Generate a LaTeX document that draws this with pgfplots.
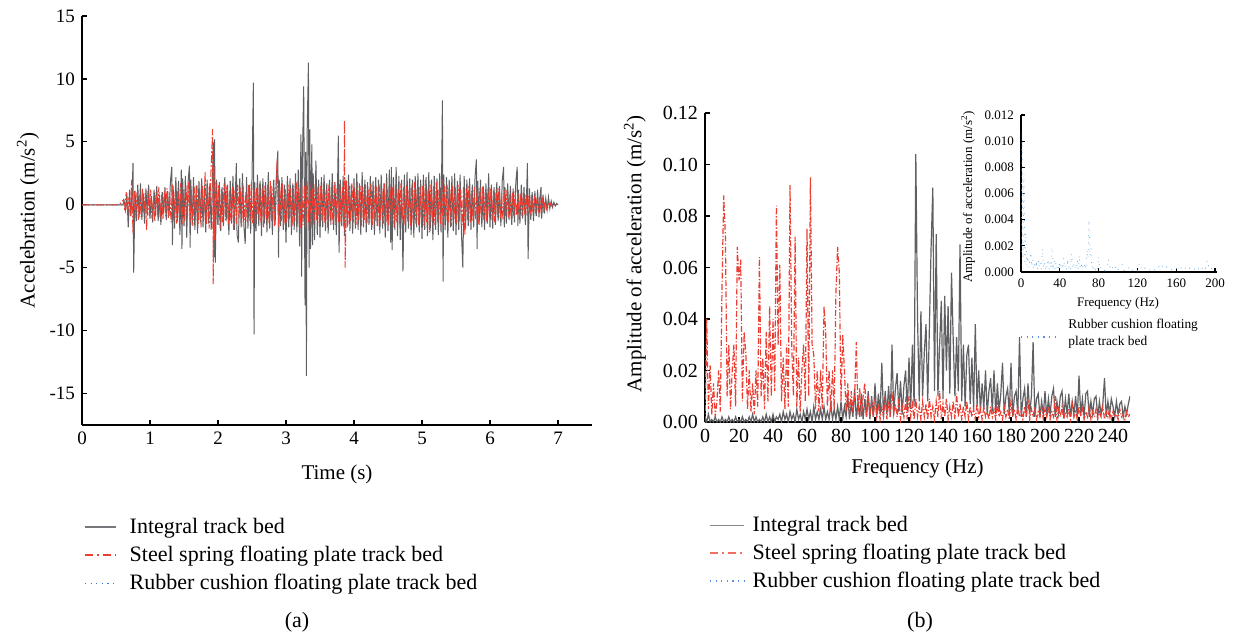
\documentclass[border=0pt]{standalone}
\usepackage{fontspec}
\setmainfont{Liberation Serif}
\usepackage{pgfplots}
\pgfplotsset{compat=1.18}
\definecolor{grayline}{RGB}{95,96,100}
\definecolor{redline}{RGB}{236,62,50}
\definecolor{blueline}{RGB}{60,120,200}
\definecolor{lightblue}{RGB}{110,175,225}
\pgfplotsset{
 base/.style={scale only axis, axis lines*=left,
   axis line style={line width=0.6pt},
   every tick/.style={black, line width=0.6pt},
   major tick length=2.5pt,
   /pgf/number format/assume math mode=true,
   scaled y ticks=false, scaled x ticks=false},
}
\begin{document}
\begin{tikzpicture}
\path[use as bounding box] (0,0) rectangle (617pt,318.5pt);
% ---------------- (a) ----------------
\begin{axis}[base, at={(41pt,106pt)}, anchor=south west,
  width=255pt, height=204.5pt,
  xmin=0, xmax=7.5, ymin=-17.5, ymax=15,
  xtick={0,1,2,3,4,5,6,7}, ytick={-15,-10,-5,0,5,10,15},
  ticklabel style={font=\fontsize{9.5}{11}\selectfont},
  xlabel={Time (s)}, ylabel={Accelebration (m/s\textsuperscript{2})},
  label style={font=\fontsize{10.5}{12}\selectfont},
  xlabel style={at={(axis description cs:0.5,-0.122)}, anchor=center},
  ylabel style={at={(axis description cs:-0.106,0.5)}, anchor=center},
  legend image code/.code={\draw[#1] (0pt,0pt) -- (15.5pt,0pt);},
  legend style={at={(axis description cs:-0.008,-0.318)}, anchor=west, draw=none, fill=none,
    font=\fontsize{11}{13}\selectfont, row sep=0.6pt,
    cells={anchor=west, inner sep=0pt, text height=8pt, text depth=2.5pt},
    /tikz/every odd column/.append style={column sep=4.5pt}},
]
\addplot[blueline, line width=0.5pt, densely dotted, forget plot] coordinates {
(0,0) (0.6,0) (0.7,0.2) (0.8,-0.3) (0.9,0.25) (1.0,-0.2) (1.1,0.3) (1.2,-0.25) (1.3,0.2) (1.4,-0.35)
(1.5,0.3) (1.6,-0.2) (1.7,0.25) (1.8,-0.3) (1.9,0.4) (2.0,-0.3) (2.1,0.2) (2.2,-0.25) (2.3,0.3) (2.4,-0.2)
(2.5,0.35) (2.6,-0.3) (2.7,0.2) (2.8,-0.25) (2.9,0.3) (3.0,-0.2) (3.1,0.25) (3.2,-0.35) (3.3,0.4) (3.4,-0.3)
(3.5,0.2) (3.6,-0.25) (3.7,0.3) (3.8,-0.2) (3.9,0.35) (4.0,-0.3) (4.1,0.2) (4.2,-0.25) (4.3,0.3) (4.4,-0.2)
(4.5,0.25) (4.6,-0.3) (4.7,0.2) (4.8,-0.25) (4.9,0.3) (5.0,-0.2) (5.1,0.25) (5.2,-0.3) (5.3,0.35) (5.4,-0.25)
(5.5,0.2) (5.6,-0.3) (5.7,0.25) (5.8,-0.2) (5.9,0.2) (6.0,-0.25) (6.1,0.2) (6.2,-0.15) (6.3,0.2) (6.4,-0.15)
(6.5,0.15) (6.6,-0.1) (6.7,0.1) (6.8,-0.05) (6.9,0.05) (7.0,0)};
\addplot[grayline, line width=0.5pt, forget plot] coordinates {
(0,0) (0.60,0) (0.62,0.3) (0.64,-0.4) (0.66,0.9) (0.68,-1.8) (0.70,1.2) (0.72,-0.9) (0.74,1.5) (0.75,3.3)
(0.76,-5.4) (0.78,1.1) (0.80,-1.3) (0.82,1.6) (0.84,-1.0) (0.86,1.7) (0.88,-1.2) (0.90,0.9) (0.92,-1.5) (0.94,1.3)
(0.96,-0.8) (0.98,1.6) (1.00,-1.1) (1.02,0.7) (1.04,-1.4) (1.06,1.2) (1.08,-0.9) (1.10,1.5) (1.12,-1.3) (1.14,0.8)
(1.16,-1.6) (1.18,1.0) (1.20,-0.7) (1.22,1.4) (1.24,-1.2) (1.26,1.1) (1.28,-0.9) (1.30,1.8) (1.32,3.0) (1.33,-3.2)
(1.34,1.5) (1.36,-1.9) (1.38,2.2) (1.40,-1.4) (1.42,1.9) (1.44,-2.4) (1.46,2.8) (1.47,-3.5) (1.48,2.1) (1.50,-1.7)
(1.52,2.3) (1.54,-2.6) (1.56,1.8) (1.58,3.1) (1.59,-3.4) (1.60,2.0) (1.62,-1.6) (1.64,2.2) (1.66,-2.0) (1.68,1.5)
(1.70,-2.3) (1.72,1.9) (1.74,-1.4) (1.76,2.1) (1.78,-1.8) (1.80,1.6) (1.82,-2.2) (1.84,2.0) (1.86,-1.5) (1.88,1.7)
(1.90,-2.0) (1.92,2.4) (1.93,5.0) (1.94,-4.2) (1.95,5.2) (1.96,-4.6) (1.98,2.0) (2.00,-1.6) (2.02,1.8) (2.04,-2.1)
(2.06,1.4) (2.08,-1.7) (2.10,2.2) (2.12,-1.3) (2.14,1.6) (2.16,-2.4) (2.18,1.9) (2.20,-1.5) (2.22,2.3) (2.24,-2.0)
(2.26,1.7) (2.27,3.3) (2.28,-2.4) (2.30,-3.0) (2.32,2.1) (2.34,-1.8) (2.36,2.5) (2.38,-1.6) (2.40,-3.1) (2.42,2.2)
(2.44,-1.9) (2.46,1.6) (2.48,-2.3) (2.50,2.0) (2.52,9.7) (2.53,-10.3) (2.54,1.8) (2.56,-2.1) (2.58,2.4) (2.60,-1.7)
(2.62,1.9) (2.64,-2.5) (2.66,2.1) (2.68,-1.5) (2.70,1.8) (2.72,-2.2) (2.74,2.6) (2.76,-1.9) (2.78,1.5) (2.80,-2.4)
(2.82,2.0) (2.84,-1.6) (2.86,2.3) (2.88,4.3) (2.89,-4.2) (2.90,2.0) (2.92,-1.7) (2.94,2.2) (2.96,-2.0) (2.98,1.6)
(3.00,-3.0) (3.02,2.3) (3.04,-1.8) (3.06,2.1) (3.08,-2.4) (3.10,1.7) (3.12,-2.0) (3.14,2.5) (3.16,-2.2) (3.18,2.8)
(3.20,-3.3) (3.22,5.6) (3.23,-5.7) (3.24,3.0) (3.26,9.4) (3.28,-8.0) (3.29,4.2) (3.30,-13.6) (3.31,5.4) (3.33,11.3)
(3.34,-5.0) (3.35,6.0) (3.36,-3.5) (3.38,4.8) (3.39,-3.2) (3.40,2.5) (3.42,-2.8) (3.44,3.5) (3.46,-2.4) (3.48,2.0)
(3.50,-2.6) (3.52,2.2) (3.54,-1.8) (3.56,2.4) (3.58,-2.1) (3.60,1.7) (3.62,-2.3) (3.64,2.0) (3.66,-1.6) (3.68,2.5)
(3.70,-2.0) (3.72,1.8) (3.74,-2.4) (3.76,2.2) (3.77,5.5) (3.78,-3.8) (3.80,2.0) (3.82,-1.7) (3.84,2.3) (3.86,-2.5)
(3.88,2.0) (3.90,-1.8) (3.92,2.4) (3.94,-2.1) (3.96,1.6) (3.98,-2.3) (4.00,2.1) (4.02,-1.9) (4.04,2.5) (4.06,-2.0)
(4.08,1.7) (4.10,-2.4) (4.12,2.6) (4.14,-1.8) (4.16,2.0) (4.18,-2.2) (4.20,1.8) (4.22,-1.6) (4.24,2.3) (4.26,-2.0)
(4.28,1.9) (4.30,-2.4) (4.32,2.2) (4.34,-1.7) (4.36,2.0) (4.38,-2.3) (4.40,2.4) (4.42,-1.9) (4.44,1.7) (4.46,-2.6)
(4.48,2.5) (4.50,-2.1) (4.52,2.8) (4.54,-3.0) (4.55,3.0) (4.56,-3.6) (4.58,2.2) (4.60,-2.0) (4.62,3.0) (4.64,-2.5)
(4.66,2.3) (4.68,-2.8) (4.70,2.0) (4.72,-5.3) (4.74,2.4) (4.76,-2.2) (4.78,2.6) (4.80,-1.9) (4.82,2.1) (4.84,-2.4)
(4.86,2.0) (4.88,-2.6) (4.90,2.3) (4.92,-1.8) (4.94,2.5) (4.96,-2.2) (4.98,2.0) (5.00,-2.7) (5.02,2.4) (5.04,-2.0)
(5.06,2.2) (5.08,-2.5) (5.10,2.6) (5.12,-2.1) (5.14,2.0) (5.16,-2.8) (5.18,2.3) (5.20,-2.0) (5.22,2.1) (5.24,-2.4)
(5.26,2.5) (5.28,-2.2) (5.30,8.3) (5.31,-6.1) (5.32,2.4) (5.34,-2.0) (5.36,2.2) (5.38,-2.6) (5.40,2.0) (5.42,-1.8)
(5.44,2.3) (5.46,-2.1) (5.48,2.5) (5.50,-2.4) (5.52,1.9) (5.54,-2.0) (5.56,2.4) (5.58,-2.2) (5.60,-5.0) (5.62,2.3)
(5.64,-1.9) (5.66,2.0) (5.68,-1.7) (5.70,2.1) (5.72,-2.0) (5.74,1.6) (5.76,-1.8) (5.78,2.2) (5.80,3.6) (5.81,-3.5)
(5.82,1.9) (5.84,-1.6) (5.86,2.0) (5.88,-1.8) (5.90,1.5) (5.92,-2.0) (5.94,1.7) (5.96,-1.5) (5.98,2.5) (6.00,-1.8)
(6.02,1.6) (6.04,-1.9) (6.06,1.4) (6.08,-1.6) (6.10,1.8) (6.12,-1.3) (6.14,1.5) (6.16,-1.7) (6.18,1.9) (6.20,3.0)
(6.21,-1.8) (6.22,1.4) (6.24,-1.5) (6.26,1.7) (6.28,-1.2) (6.30,1.5) (6.32,-1.6) (6.34,1.3) (6.36,-1.4) (6.38,1.8)
(6.40,3.0) (6.41,-1.7) (6.42,1.2) (6.44,-1.5) (6.46,1.6) (6.48,-1.1) (6.50,1.4) (6.52,-1.6) (6.54,1.2) (6.55,3.3)
(6.56,-4.3) (6.58,1.3) (6.60,-1.2) (6.62,1.0) (6.64,-1.3) (6.66,1.1) (6.68,-0.9) (6.70,1.2) (6.72,-1.0) (6.74,0.9)
(6.75,1.4) (6.76,-1.1) (6.78,0.8) (6.80,-0.7) (6.82,0.5) (6.84,-0.4) (6.86,0.6) (6.88,-0.3) (6.90,0.3) (6.92,-0.2)
(6.94,0.2) (6.96,-0.1) (6.98,0.1) (7.00,0)};
\addplot[redline, line width=0.5pt, dash pattern=on 4pt off 1pt on 1pt off 1pt, forget plot] coordinates {
(0,0) (0.55,0) (0.61,0.4) (0.63,-0.5) (0.65,1.0) (0.67,-0.8) (0.69,0.6) (0.71,-0.9) (0.73,2.0) (0.75,-2.3)
(0.77,1.1) (0.79,-0.8) (0.81,1.0) (0.83,-1.2) (0.85,0.8) (0.87,-1.0) (0.89,1.3) (0.91,-0.7) (0.93,0.9) (0.95,-2.0)
(0.97,1.1) (0.99,-0.9) (1.01,1.2) (1.03,-1.1) (1.05,0.7) (1.07,-1.3) (1.09,1.0) (1.11,-0.8) (1.13,1.4) (1.15,-1.0)
(1.17,0.8) (1.19,-1.2) (1.21,1.1) (1.23,-0.9) (1.25,1.3) (1.27,-1.1) (1.29,0.9) (1.31,-1.4) (1.33,1.6) (1.35,-1.2)
(1.37,1.0) (1.39,-1.5) (1.41,1.3) (1.43,-1.0) (1.45,1.7) (1.47,-1.6) (1.49,1.2) (1.51,-1.3) (1.53,1.5) (1.55,-1.1)
(1.57,1.8) (1.59,-1.4) (1.61,1.2) (1.63,-1.7) (1.65,1.4) (1.67,-1.2) (1.69,1.6) (1.71,-1.5) (1.73,1.3) (1.75,-1.8)
(1.77,1.5) (1.79,-1.2) (1.81,2.6) (1.83,-1.6) (1.85,1.4) (1.87,-1.9) (1.89,1.7) (1.91,4.5) (1.92,6.0) (1.93,-6.3)
(1.94,3.0) (1.95,-2.8) (1.97,1.8) (1.99,-1.5) (2.01,1.6) (2.03,-1.9) (2.05,1.3) (2.07,-1.4) (2.09,1.7) (2.11,-1.2)
(2.13,1.5) (2.15,-1.6) (2.17,1.1) (2.19,-1.3) (2.21,1.4) (2.23,-2.0) (2.25,1.2) (2.27,-1.5) (2.29,1.6) (2.31,-1.1)
(2.33,1.3) (2.35,-1.7) (2.37,1.5) (2.39,-1.2) (2.41,1.0) (2.43,-1.4) (2.45,1.6) (2.47,-1.3) (2.49,1.8) (2.51,-1.5)
(2.53,1.2) (2.55,-1.6) (2.57,1.4) (2.59,-1.0) (2.61,1.7) (2.63,-1.4) (2.65,1.3) (2.67,-1.8) (2.69,1.5) (2.71,-1.2)
(2.73,1.6) (2.75,-1.5) (2.77,1.9) (2.79,-1.3) (2.81,1.4) (2.83,-1.7) (2.85,1.2) (2.87,3.6) (2.89,-1.8) (2.91,1.5)
(2.93,-1.3) (2.95,1.7) (2.97,-1.6) (2.99,1.2) (3.01,-1.4) (3.03,1.6) (3.05,-1.2) (3.07,1.3) (3.09,-1.7) (3.11,1.5)
(3.13,-1.3) (3.15,1.8) (3.17,-1.5) (3.19,1.4) (3.21,-1.9) (3.23,1.7) (3.25,-1.6) (3.27,1.5) (3.29,-1.8) (3.31,1.9)
(3.33,-1.4) (3.35,1.6) (3.37,-1.7) (3.39,1.3) (3.41,-1.5) (3.43,1.7) (3.45,-1.2) (3.47,1.4) (3.49,-1.6) (3.51,1.5)
(3.53,-1.3) (3.55,1.7) (3.57,-1.4) (3.59,1.2) (3.61,-1.8) (3.63,1.6) (3.65,-1.3) (3.67,1.4) (3.69,-1.5) (3.71,1.8)
(3.73,-1.6) (3.75,1.3) (3.77,-1.4) (3.79,1.7) (3.81,-1.5) (3.83,1.4) (3.85,-1.8) (3.86,6.7) (3.87,-5.0) (3.89,1.9)
(3.91,-1.6) (3.93,1.5) (3.95,-1.3) (3.97,1.7) (3.99,-1.4) (4.01,1.3) (4.03,-1.6) (4.05,1.8) (4.07,-1.2) (4.09,1.5)
(4.11,-1.7) (4.13,1.4) (4.15,-1.3) (4.17,1.6) (4.19,-1.5) (4.21,1.2) (4.23,-1.4) (4.25,1.7) (4.27,-1.6) (4.29,1.5)
(4.31,-1.3) (4.33,1.4) (4.35,-1.7) (4.37,1.6) (4.39,-1.2) (4.41,1.3) (4.43,-1.5) (4.45,1.7) (4.47,-1.4) (4.49,1.2)
(4.51,-1.6) (4.53,1.5) (4.55,-1.3) (4.57,1.4) (4.59,-1.8) (4.61,1.6) (4.63,-1.4) (4.65,1.3) (4.67,-1.5) (4.69,1.7)
(4.71,-1.2) (4.73,1.4) (4.75,-1.6) (4.77,1.5) (4.79,-1.3) (4.81,1.2) (4.83,-1.7) (4.85,1.6) (4.87,-1.4) (4.89,1.8)
(4.91,-1.5) (4.93,1.3) (4.95,-1.6) (4.97,1.4) (4.99,-1.2) (5.01,1.5) (5.03,-1.7) (5.05,2.0) (5.07,-1.4) (5.09,1.3)
(5.11,-2.2) (5.13,1.6) (5.15,-1.3) (5.17,1.5) (5.19,-1.6) (5.21,1.8) (5.23,-1.4) (5.25,1.2) (5.27,-1.5) (5.29,2.0)
(5.31,-1.8) (5.33,1.5) (5.35,-1.3) (5.37,1.6) (5.39,-1.4) (5.41,1.3) (5.43,-1.7) (5.45,1.5) (5.47,-1.2) (5.49,1.4)
(5.51,-1.5) (5.53,1.6) (5.55,-1.3) (5.57,1.2) (5.59,-1.6) (5.61,1.4) (5.63,-2.4) (5.65,1.3) (5.67,-1.2) (5.69,1.5)
(5.71,-1.4) (5.73,1.1) (5.75,-1.3) (5.77,1.4) (5.79,-1.2) (5.81,1.2) (5.83,-1.5) (5.85,1.3) (5.87,-1.1) (5.89,1.4)
(5.91,-1.2) (5.93,1.0) (5.95,-1.3) (5.97,1.2) (5.99,-1.0) (6.01,1.3) (6.03,-1.2) (6.05,1.1) (6.07,-1.4) (6.09,1.2)
(6.11,-1.0) (6.13,1.3) (6.15,-1.1) (6.17,0.9) (6.19,-1.2) (6.21,1.1) (6.23,-0.9) (6.25,1.2) (6.27,-1.0) (6.29,0.8)
(6.31,-1.1) (6.33,1.0) (6.35,-0.9) (6.37,1.1) (6.39,-0.8) (6.41,0.9) (6.43,-1.0) (6.45,0.8) (6.47,-0.9) (6.49,1.0)
(6.51,-0.7) (6.53,0.8) (6.55,-0.9) (6.57,0.7) (6.59,-0.8) (6.61,0.8) (6.63,-0.6) (6.65,0.7) (6.67,-0.7) (6.69,0.5)
(6.71,-0.6) (6.73,0.6) (6.75,-0.5) (6.77,0.4) (6.79,-0.4) (6.81,0.3) (6.83,-0.3) (6.85,0.2) (6.87,-0.2) (6.89,0.1)
(6.91,-0.1) (6.93,0) (7.00,0)};
\addlegendimage{grayline!85, line width=0.7pt}
\addlegendentry{Integral track bed}
\addlegendimage{redline, line width=0.7pt, dash pattern=on 4pt off 2pt on 1pt off 2pt}
\addlegendentry{Steel spring floating plate track bed}
\addlegendimage{blueline, line width=0.7pt, dash pattern=on 0.6pt off 2.2pt}
\addlegendentry{Rubber cushion floating plate track bed}
\end{axis}
% ---------------- (b) main ----------------
\begin{axis}[base, at={(352.5pt,107.5pt)}, anchor=south west,
  width=212.5pt, height=154.5pt,
  xmin=0, xmax=250, ymin=0, ymax=0.12,
  xtick={0,20,40,60,80,100,120,140,160,180,200,220,240},
  ytick={0,0.02,0.04,0.06,0.08,0.1,0.12},
  yticklabel style={/pgf/number format/.cd, fixed, fixed zerofill, precision=2},
  ticklabel style={font=\fontsize{10}{12}\selectfont},
  xlabel={Frequency (Hz)}, ylabel={Amplitude of acceleration (m/s\textsuperscript{2})},
  label style={font=\fontsize{10.5}{12}\selectfont},
  xlabel style={at={(axis description cs:0.5,-0.149)}, anchor=center},
  ylabel style={at={(axis description cs:-0.165,0.544)}, anchor=center},
  legend image code/.code={\draw[#1] (0pt,0pt) -- (17pt,0pt);},
  legend style={at={(axis description cs:-0.005,-0.424)}, anchor=west, draw=none, fill=none,
    font=\fontsize{11}{13}\selectfont, row sep=0.4pt,
    cells={anchor=west, inner sep=0pt, text height=8pt, text depth=2.5pt},
    /tikz/every odd column/.append style={column sep=2pt}},
]
\addplot[grayline, line width=0.6pt, forget plot] coordinates {
(0,0.002) (1,0.000) (2,0.003) (3,0.000) (4,0.001) (5,0.000) (6,0.002) (7,0.000) (8,0.001) (9,0.000)
(10,0.002) (11,0.000) (12,0.001) (13,0.000) (14,0.002) (15,0.000) (16,0.001) (17,0.000) (18,0.002) (19,0.000)
(20,0.001) (21,0.000) (22,0.002) (23,0.000) (24,0.001) (25,0.000) (26,0.002) (27,0.000) (28,0.003) (29,0.000)
(30,0.002) (31,0.000) (32,0.001) (33,0.000) (34,0.002) (35,0.000) (36,0.003) (37,0.000) (38,0.002) (39,0.000)
(40,0.003) (41,0.000) (42,0.002) (43,0.001) (44,0.003) (45,0.000) (46,0.004) (47,0.001) (48,0.003) (49,0.000)
(50,0.004) (51,0.001) (52,0.003) (53,0.000) (54,0.005) (55,0.001) (56,0.003) (57,0.000) (58,0.004) (59,0.001)
(60,0.005) (61,0.001) (62,0.004) (63,0.000) (64,0.006) (65,0.001) (66,0.004) (67,0.001) (68,0.005) (69,0.001)
(70,0.006) (71,0.001) (72,0.004) (73,0.001) (74,0.007) (75,0.001) (76,0.005) (77,0.001) (78,0.006) (79,0.001)
(80,0.008) (81,0.001) (82,0.006) (83,0.002) (84,0.010) (85,0.001) (86,0.007) (87,0.002) (88,0.013) (89,0.001)
(90,0.008) (91,0.002) (92,0.011) (93,0.001) (94,0.009) (95,0.002) (96,0.012) (97,0.001) (98,0.010) (99,0.002)
(100,0.015) (101,0.002) (102,0.011) (103,0.003) (104,0.023) (105,0.002) (106,0.012) (107,0.003) (108,0.014) (109,0.002)
(110,0.030) (111,0.003) (112,0.013) (113,0.019) (114,0.004) (115,0.016) (116,0.003) (117,0.014) (118,0.020) (119,0.004)
(120,0.025) (121,0.005) (122,0.030) (123,0.006) (124,0.104) (125,0.041) (126,0.008) (127,0.043) (128,0.010) (129,0.027)
(130,0.038) (131,0.008) (132,0.037) (133,0.068) (134,0.091) (135,0.012) (136,0.073) (137,0.010) (138,0.030) (139,0.047)
(140,0.009) (141,0.049) (142,0.020) (143,0.045) (144,0.011) (145,0.058) (146,0.032) (147,0.010) (148,0.033) (149,0.012)
(150,0.069) (151,0.008) (152,0.030) (153,0.006) (154,0.026) (155,0.030) (156,0.007) (157,0.025) (158,0.005) (159,0.038)
(160,0.006) (161,0.020) (162,0.004) (163,0.015) (164,0.005) (165,0.020) (166,0.003) (167,0.012) (168,0.017) (169,0.004)
(170,0.020) (171,0.003) (172,0.015) (173,0.004) (174,0.011) (175,0.023) (176,0.003) (177,0.010) (178,0.013) (179,0.003)
(180,0.023) (181,0.002) (182,0.010) (183,0.012) (184,0.003) (185,0.033) (186,0.002) (187,0.009) (188,0.013) (189,0.002)
(190,0.015) (191,0.003) (192,0.010) (193,0.031) (194,0.002) (195,0.009) (196,0.011) (197,0.002) (198,0.008) (199,0.003)
(200,0.012) (201,0.002) (202,0.009) (203,0.003) (204,0.010) (205,0.013) (206,0.002) (207,0.008) (208,0.003) (209,0.010)
(210,0.012) (211,0.002) (212,0.009) (213,0.003) (214,0.011) (215,0.002) (216,0.008) (217,0.003) (218,0.010) (219,0.002)
(220,0.018) (221,0.003) (222,0.009) (223,0.002) (224,0.011) (225,0.012) (226,0.002) (227,0.008) (228,0.003) (229,0.009)
(230,0.010) (231,0.002) (232,0.008) (233,0.003) (234,0.007) (235,0.017) (236,0.002) (237,0.008) (238,0.003) (239,0.009)
(240,0.006) (241,0.002) (242,0.008) (243,0.003) (244,0.007) (245,0.008) (246,0.002) (247,0.006) (248,0.003) (249,0.007)
(250,0.010)};
\addplot[redline, line width=0.6pt, dash pattern=on 3pt off 1pt on 0.6pt off 1pt, forget plot] coordinates {
(0,0.000) (1,0.040) (2,0.005) (3,0.022) (4,0.003) (5,0.015) (6,0.002) (7,0.008) (8,0.020) (9,0.004)
(10,0.052) (11,0.088) (12,0.072) (13,0.010) (14,0.030) (15,0.005) (16,0.020) (17,0.030) (18,0.006) (19,0.068)
(20,0.055) (21,0.063) (22,0.008) (23,0.035) (24,0.027) (25,0.005) (26,0.020) (27,0.004) (28,0.015) (29,0.003)
(30,0.020) (31,0.006) (32,0.064) (33,0.010) (34,0.025) (35,0.005) (36,0.035) (37,0.008) (38,0.045) (39,0.010)
(40,0.040) (41,0.012) (42,0.084) (43,0.030) (44,0.061) (45,0.008) (46,0.025) (47,0.005) (48,0.030) (49,0.006)
(50,0.092) (51,0.030) (52,0.010) (53,0.072) (54,0.006) (55,0.025) (56,0.004) (57,0.020) (58,0.030) (59,0.008)
(60,0.075) (61,0.010) (62,0.095) (63,0.030) (64,0.026) (65,0.005) (66,0.020) (67,0.004) (68,0.020) (69,0.005)
(70,0.045) (71,0.035) (72,0.006) (73,0.020) (74,0.004) (75,0.020) (76,0.005) (77,0.050) (78,0.068) (79,0.058)
(80,0.008) (81,0.034) (82,0.020) (83,0.004) (84,0.015) (85,0.003) (86,0.012) (87,0.004) (88,0.010) (89,0.031)
(90,0.003) (91,0.013) (92,0.002) (93,0.010) (94,0.015) (95,0.002) (96,0.010) (97,0.003) (98,0.008) (99,0.002)
(100,0.009) (101,0.002) (102,0.007) (103,0.001) (104,0.006) (105,0.002) (106,0.010) (107,0.001) (108,0.008) (109,0.002)
(110,0.012) (111,0.003) (112,0.007) (113,0.002) (114,0.009) (115,0.001) (116,0.006) (117,0.002) (118,0.008) (119,0.001)
(120,0.010) (121,0.002) (122,0.007) (123,0.001) (124,0.009) (125,0.002) (126,0.006) (127,0.001) (128,0.008) (129,0.002)
(130,0.007) (131,0.001) (132,0.009) (133,0.002) (134,0.006) (135,0.001) (136,0.008) (137,0.002) (138,0.012) (139,0.001)
(140,0.007) (141,0.002) (142,0.009) (143,0.001) (144,0.006) (145,0.002) (146,0.008) (147,0.001) (148,0.011) (149,0.002)
(150,0.007) (151,0.001) (152,0.006) (153,0.002) (154,0.008) (155,0.001) (156,0.006) (157,0.002) (158,0.005) (159,0.001)
(160,0.007) (161,0.002) (162,0.005) (163,0.001) (164,0.006) (165,0.002) (166,0.004) (167,0.001) (168,0.006) (169,0.002)
(170,0.005) (171,0.001) (172,0.007) (173,0.002) (174,0.004) (175,0.001) (176,0.006) (177,0.002) (178,0.005) (179,0.001)
(180,0.008) (181,0.002) (182,0.005) (183,0.001) (184,0.006) (185,0.002) (186,0.004) (187,0.001) (188,0.006) (189,0.002)
(190,0.009) (191,0.001) (192,0.005) (193,0.002) (194,0.006) (195,0.001) (196,0.004) (197,0.002) (198,0.006) (199,0.001)
(200,0.005) (201,0.002) (202,0.006) (203,0.001) (204,0.004) (205,0.002) (206,0.010) (207,0.001) (208,0.005) (209,0.002)
(210,0.006) (211,0.001) (212,0.004) (213,0.002) (214,0.005) (215,0.001) (216,0.007) (217,0.002) (218,0.004) (219,0.001)
(220,0.006) (221,0.002) (222,0.005) (223,0.001) (224,0.004) (225,0.002) (226,0.006) (227,0.001) (228,0.004) (229,0.002)
(230,0.005) (231,0.001) (232,0.004) (233,0.002) (234,0.006) (235,0.001) (236,0.004) (237,0.002) (238,0.005) (239,0.001)
(240,0.004) (241,0.002) (242,0.003) (243,0.001) (244,0.005) (245,0.002) (246,0.003) (247,0.001) (248,0.004) (249,0.002)
(250,0.003)};
\addlegendimage{grayline!75, line width=0.7pt}
\addlegendentry{Integral track bed}
\addlegendimage{redline!75, line width=0.7pt, dash pattern=on 4pt off 2pt on 1pt off 2pt}
\addlegendentry{Steel spring floating plate track bed}
\addlegendimage{lightblue!80!blue, line width=0.7pt, dash pattern=on 0.6pt off 2.2pt}
\addlegendentry{Rubber cushion floating plate track bed}
\end{axis}
% ---------------- (b) inset ----------------
\begin{axis}[base, at={(510.5pt,182.5pt)}, anchor=south west,
  width=98pt, height=78.5pt,
  xmin=0, xmax=202, ymin=0, ymax=0.012,
  xtick={0,40,80,120,160,200},
  ytick={0,0.002,0.004,0.006,0.008,0.01,0.012},
  yticklabel style={/pgf/number format/.cd, fixed, fixed zerofill, precision=3},
  major tick length=1.8pt,
  ticklabel style={font=\fontsize{6.5}{8}\selectfont},
  xlabel={Frequency (Hz)}, ylabel={Amplitude of acceleration (m/s\textsuperscript{2})},
  label style={font=\fontsize{6.5}{8}\selectfont},
  xlabel style={at={(axis description cs:0.495,-0.197)}, anchor=center},
  ylabel style={at={(axis description cs:-0.27,0.478)}, anchor=center},
]
\addplot[lightblue, line width=0.4pt, dash pattern=on 0.4pt off 3pt] coordinates {
(0,0.0005) (1,0.0108) (2,0.0010) (3,0.0075) (4,0.0008) (5,0.0030) (6,0.0005) (7,0.0012) (8,0.0003) (9,0.0008)
(10,0.0015) (11,0.0004) (12,0.0010) (13,0.0002) (14,0.0008) (15,0.0003) (16,0.0006) (17,0.0002) (18,0.0009) (19,0.0003)
(20,0.0007) (21,0.0002) (22,0.0018) (23,0.0004) (24,0.0008) (25,0.0002) (26,0.0006) (27,0.0003) (28,0.0010) (29,0.0002)
(30,0.0008) (31,0.0003) (32,0.0019) (33,0.0005) (34,0.0009) (35,0.0002) (36,0.0007) (37,0.0003) (38,0.0006) (39,0.0002)
(40,0.0008) (41,0.0003) (42,0.0005) (43,0.0002) (44,0.0011) (45,0.0003) (46,0.0006) (47,0.0002) (48,0.0007) (49,0.0003)
(50,0.0005) (51,0.0002) (52,0.0014) (53,0.0003) (54,0.0006) (55,0.0002) (56,0.0005) (57,0.0003) (58,0.0009) (59,0.0002)
(60,0.0013) (61,0.0003) (62,0.0006) (63,0.0002) (64,0.0005) (65,0.0003) (66,0.0007) (67,0.0002) (68,0.0017) (69,0.0010)
(70,0.0040) (71,0.0012) (72,0.0018) (73,0.0003) (74,0.0006) (75,0.0002) (76,0.0004) (77,0.0002) (78,0.0003) (79,0.0001)
(80,0.0012) (81,0.0002) (82,0.0003) (84,0.0004) (86,0.0001) (88,0.0003) (90,0.0010) (92,0.0002) (94,0.0004) (96,0.0001)
(98,0.0005) (100,0.0002) (102,0.0004) (104,0.0006) (106,0.0001) (108,0.0003) (110,0.0002) (112,0.0004) (114,0.0001) (116,0.0002)
(118,0.0003) (120,0.0001) (122,0.0007) (124,0.0002) (126,0.0001) (128,0.0003) (130,0.0001) (132,0.0002) (134,0.0001) (136,0.0003)
(138,0.0001) (140,0.0002) (142,0.0004) (144,0.0002) (146,0.0005) (148,0.0003) (150,0.0004) (152,0.0002) (154,0.0003) (156,0.0001)
(158,0.0002) (160,0.0003) (162,0.0001) (164,0.0002) (166,0.0004) (168,0.0005) (170,0.0002) (172,0.0001) (174,0.0003) (176,0.0002)
(178,0.0001) (180,0.0004) (182,0.0002) (184,0.0003) (186,0.0001) (188,0.0005) (190,0.0003) (192,0.0009) (194,0.0002) (196,0.0003)
(198,0.0001) (200,0.0002)};
\end{axis}
% leftover legend entry in (b)
\draw[lightblue!80!blue, line width=0.6pt, dash pattern=on 0.6pt off 2.2pt] (510.5pt,150pt) -- (527.5pt,150pt);
\node[anchor=west, inner sep=0pt, font=\fontsize{6.7}{8}\selectfont] at (534pt,156pt) {Rubber cushion floating};
\node[anchor=west, inner sep=0pt, font=\fontsize{6.7}{8}\selectfont] at (534pt,147.5pt) {plate track bed};
% sub-captions
\node[font=\fontsize{11}{13}\selectfont] at (148.5pt,7.5pt) {(a)};
\node[font=\fontsize{11}{13}\selectfont] at (460pt,7.5pt) {(b)};
\end{tikzpicture}
\end{document}
